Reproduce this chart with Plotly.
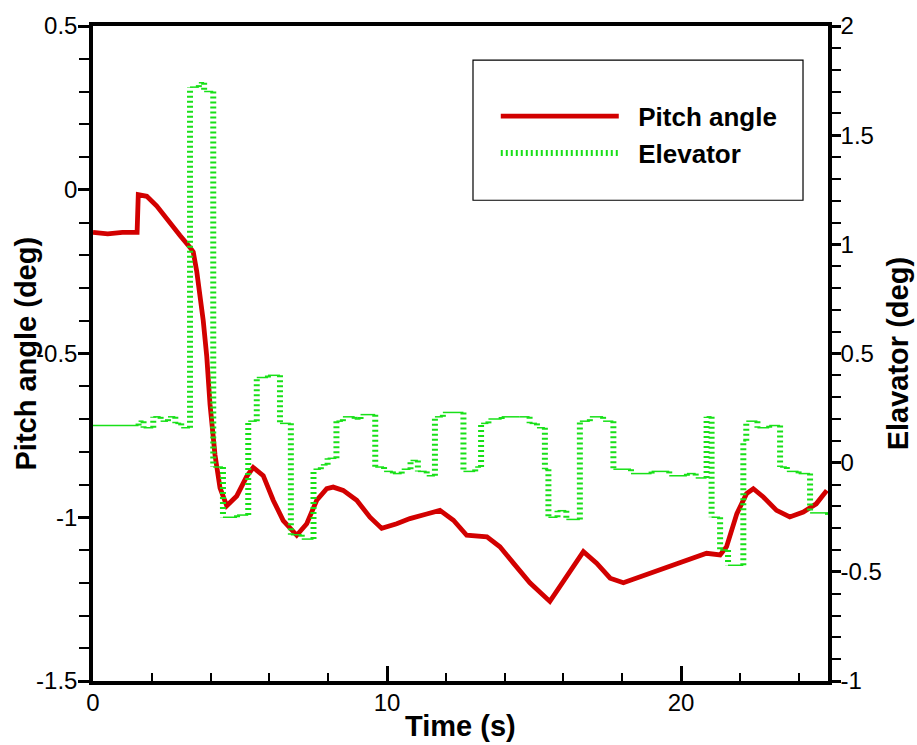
import plotly.graph_objects as go

# ---- data ----
pitch_t = [0.0, 0.5, 1.0, 1.5, 1.54, 1.83, 2.17, 2.5, 2.96, 3.3, 3.41, 3.53, 3.75, 3.87,
           3.98, 4.15, 4.32, 4.55, 4.89, 5.23, 5.45, 5.79, 6.13, 6.47, 6.93, 7.27, 7.61,
           7.95, 8.17, 8.51, 8.97, 9.42, 9.82, 10.33, 10.78, 11.35, 11.8, 12.26, 12.71,
           13.4, 13.84, 14.3, 14.86, 15.54, 16.1, 16.68, 17.13, 17.59, 18.04, 18.95,
           20.08, 20.87, 21.33, 21.55, 21.9, 22.23, 22.46, 22.8, 23.25, 23.7, 24.16,
           24.6, 24.96]
pitch_deg = [-0.13, -0.135, -0.13, -0.13, -0.015, -0.02, -0.05, -0.09, -0.14, -0.176,
             -0.19, -0.25, -0.40, -0.51, -0.655, -0.81, -0.91, -0.965, -0.935, -0.875,
             -0.848, -0.873, -0.948, -1.01, -1.055, -1.02, -0.948, -0.913, -0.908,
             -0.918, -0.948, -1.0, -1.034, -1.02, -1.004, -0.99, -0.979, -1.009, -1.055,
             -1.06, -1.09, -1.14, -1.20, -1.257, -1.18, -1.105, -1.14, -1.186, -1.20,
             -1.171, -1.135, -1.11, -1.115, -1.09, -0.989, -0.928, -0.913, -0.938,
             -0.979, -0.999, -0.984, -0.959, -0.918]

elev_t = [0.0, 1.55, 1.72, 2.05, 2.3, 2.55, 2.8, 3.0, 3.3, 3.6, 3.78, 4.09, 4.42, 4.9,
          5.28, 5.57, 5.95, 6.36, 6.73, 7.1, 7.5, 7.75, 7.98, 8.28, 8.5, 8.9, 9.1, 9.6,
          9.9, 10.2, 10.5, 10.8, 11.05, 11.35, 11.63, 11.9, 12.6, 13.0, 13.2, 13.45,
          13.9, 14.5, 14.85, 15.1, 15.37, 15.49, 15.8, 16.1, 16.56, 16.9, 17.35, 17.7,
          18.3, 19.0, 19.6, 20.2, 20.5, 20.87, 21.04, 21.33, 21.6, 22.12, 22.22, 22.6,
          23.0, 23.37, 23.6, 24.0, 24.39, 25.0]
elev_deg = [0.17, 0.19, 0.16, 0.21, 0.19, 0.21, 0.18, 0.16, 1.72, 1.74, 1.70, -0.02,
            -0.25, -0.24, 0.19, 0.39, 0.40, 0.18, -0.33, -0.35, -0.03, -0.01, 0.02,
            0.19, 0.21, 0.20, 0.22, -0.02, -0.04, -0.05, -0.03, 0.01, -0.04, -0.06,
            0.21, 0.23, -0.04, -0.02, 0.18, 0.20, 0.21, 0.21, 0.18, 0.16, -0.03, -0.25,
            -0.22, -0.26, 0.19, 0.21, 0.19, -0.03, -0.05, -0.04, -0.06, -0.05, -0.07,
            0.21, -0.25, -0.40, -0.47, 0.10, 0.19, 0.16, 0.17, -0.02, -0.04, -0.05,
            -0.23, -0.24]

left_ticks = [0.5, 0, -0.5, -1, -1.5]
left_labels = ["0.5", "0", "-0.5", "-1", "-1.5"]
right_ticks = [2, 1.5, 1, 0.5, 0, -0.5, -1]
right_labels = ["2", "1.5", "1", "0.5", "0", "-0.5", "-1"]
x_ticks = [0, 10, 20]
x_labels = ["0", "10", "20"]

RED = "#d20000"
GREEN = "#18e018"
FONT = "Liberation Sans, Arial, sans-serif"
PAD = "\u00a0\u00a0"

# split the step signal into horizontal and vertical pieces
hx, hy, vx, vy = [], [], [], []
for i in range(len(elev_t) - 1):
    hx += [elev_t[i], elev_t[i + 1], None]
    hy += [elev_deg[i], elev_deg[i], None]
    vx += [elev_t[i + 1], elev_t[i + 1], None]
    vy += [elev_deg[i], elev_deg[i + 1], None]

fig = go.Figure()
fig.add_trace(go.Scatter(x=pitch_t, y=pitch_deg, mode="lines", name=PAD + "Pitch angle",
                         line=dict(color=RED, width=4.8), yaxis="y"))
fig.add_trace(go.Scatter(x=hx, y=hy, mode="lines", showlegend=False,
                         line=dict(color=GREEN, width=1.5), yaxis="y2"))
fig.add_trace(go.Scatter(x=vx, y=vy, mode="lines", name=PAD + "Elevator",
                         line=dict(color=GREEN, width=6, dash="2px,3px"), yaxis="y2"))

fig.update_layout(
    width=917, height=745,
    margin=dict(l=93, r=89, t=22, b=64),
    paper_bgcolor="white", plot_bgcolor="white",
    font=dict(family=FONT, color="black", size=22),
    showlegend=True,
    legend=dict(x=0.548, y=0.898, xanchor="left", yanchor="top",
                bgcolor="rgba(0,0,0,0)", borderwidth=0,
                font=dict(family=FONT, size=26, color="black", weight="bold"),
                itemwidth=118, tracegroupgap=0),
    xaxis=dict(range=[0, 25], showgrid=False, zeroline=False,
               showline=True, linewidth=3.5, linecolor="black", mirror=True,
               tickvals=x_ticks, ticktext=x_labels, ticks="inside", ticklen=15,
               tickwidth=3, tickcolor="black", ticklabelstandoff=-3,
               minor=dict(dtick=2, ticks="inside", ticklen=8, tickwidth=1.5,
                          tickcolor="black"),
               tickfont=dict(size=24)),
    yaxis=dict(range=[-1.5, 0.5], showgrid=False, zeroline=False,
               showline=True, linewidth=3.5, linecolor="black", mirror=True,
               tickvals=left_ticks, ticktext=left_labels, ticks="outside", ticklen=11,
               tickwidth=3, tickcolor="black", ticklabelstandoff=-4,
               minor=dict(dtick=0.1, ticks="outside", ticklen=10, tickwidth=1.5,
                          tickcolor="black"),
               tickfont=dict(size=24)),
    yaxis2=dict(range=[-1, 2], overlaying="y", side="right", showgrid=False,
                zeroline=False, showline=True, linewidth=3.5, linecolor="black",
                tickvals=right_ticks, ticktext=right_labels, ticks="outside",
                ticklen=9, tickwidth=3, tickcolor="black", ticklabelstandoff=-5,
                minor=dict(dtick=0.1, ticks="outside", ticklen=9, tickwidth=1.5,
                           tickcolor="black"),
                tickfont=dict(size=24)),
    shapes=[dict(type="rect", xref="paper", yref="paper", x0=0.517, x1=0.966,
                 y0=0.734, y1=0.948, line=dict(color="black", width=1.2),
                 fillcolor="rgba(0,0,0,0)", layer="above")],
    annotations=[
        dict(text="<b>Pitch angle (deg)</b>", xref="paper", yref="paper",
             x=-0.0925, y=0.5, xanchor="center", yanchor="middle", textangle=-90,
             showarrow=False, font=dict(size=29, family=FONT)),
        dict(text="<b>Elavator (deg)</b>", xref="paper", yref="paper",
             x=1.095, y=0.5, xanchor="center", yanchor="middle", textangle=-90,
             showarrow=False, font=dict(size=29, family=FONT)),
        dict(text="<b>Time (s)</b>", xref="paper", yref="paper",
             x=0.5, y=-0.068, xanchor="center", yanchor="middle",
             showarrow=False, font=dict(size=29, family=FONT)),
    ],
)

fig.write_html("out.html", config={"displayModeBar": False},
               post_script="document.body.style.margin='0';document.body.style.overflow='hidden';")
